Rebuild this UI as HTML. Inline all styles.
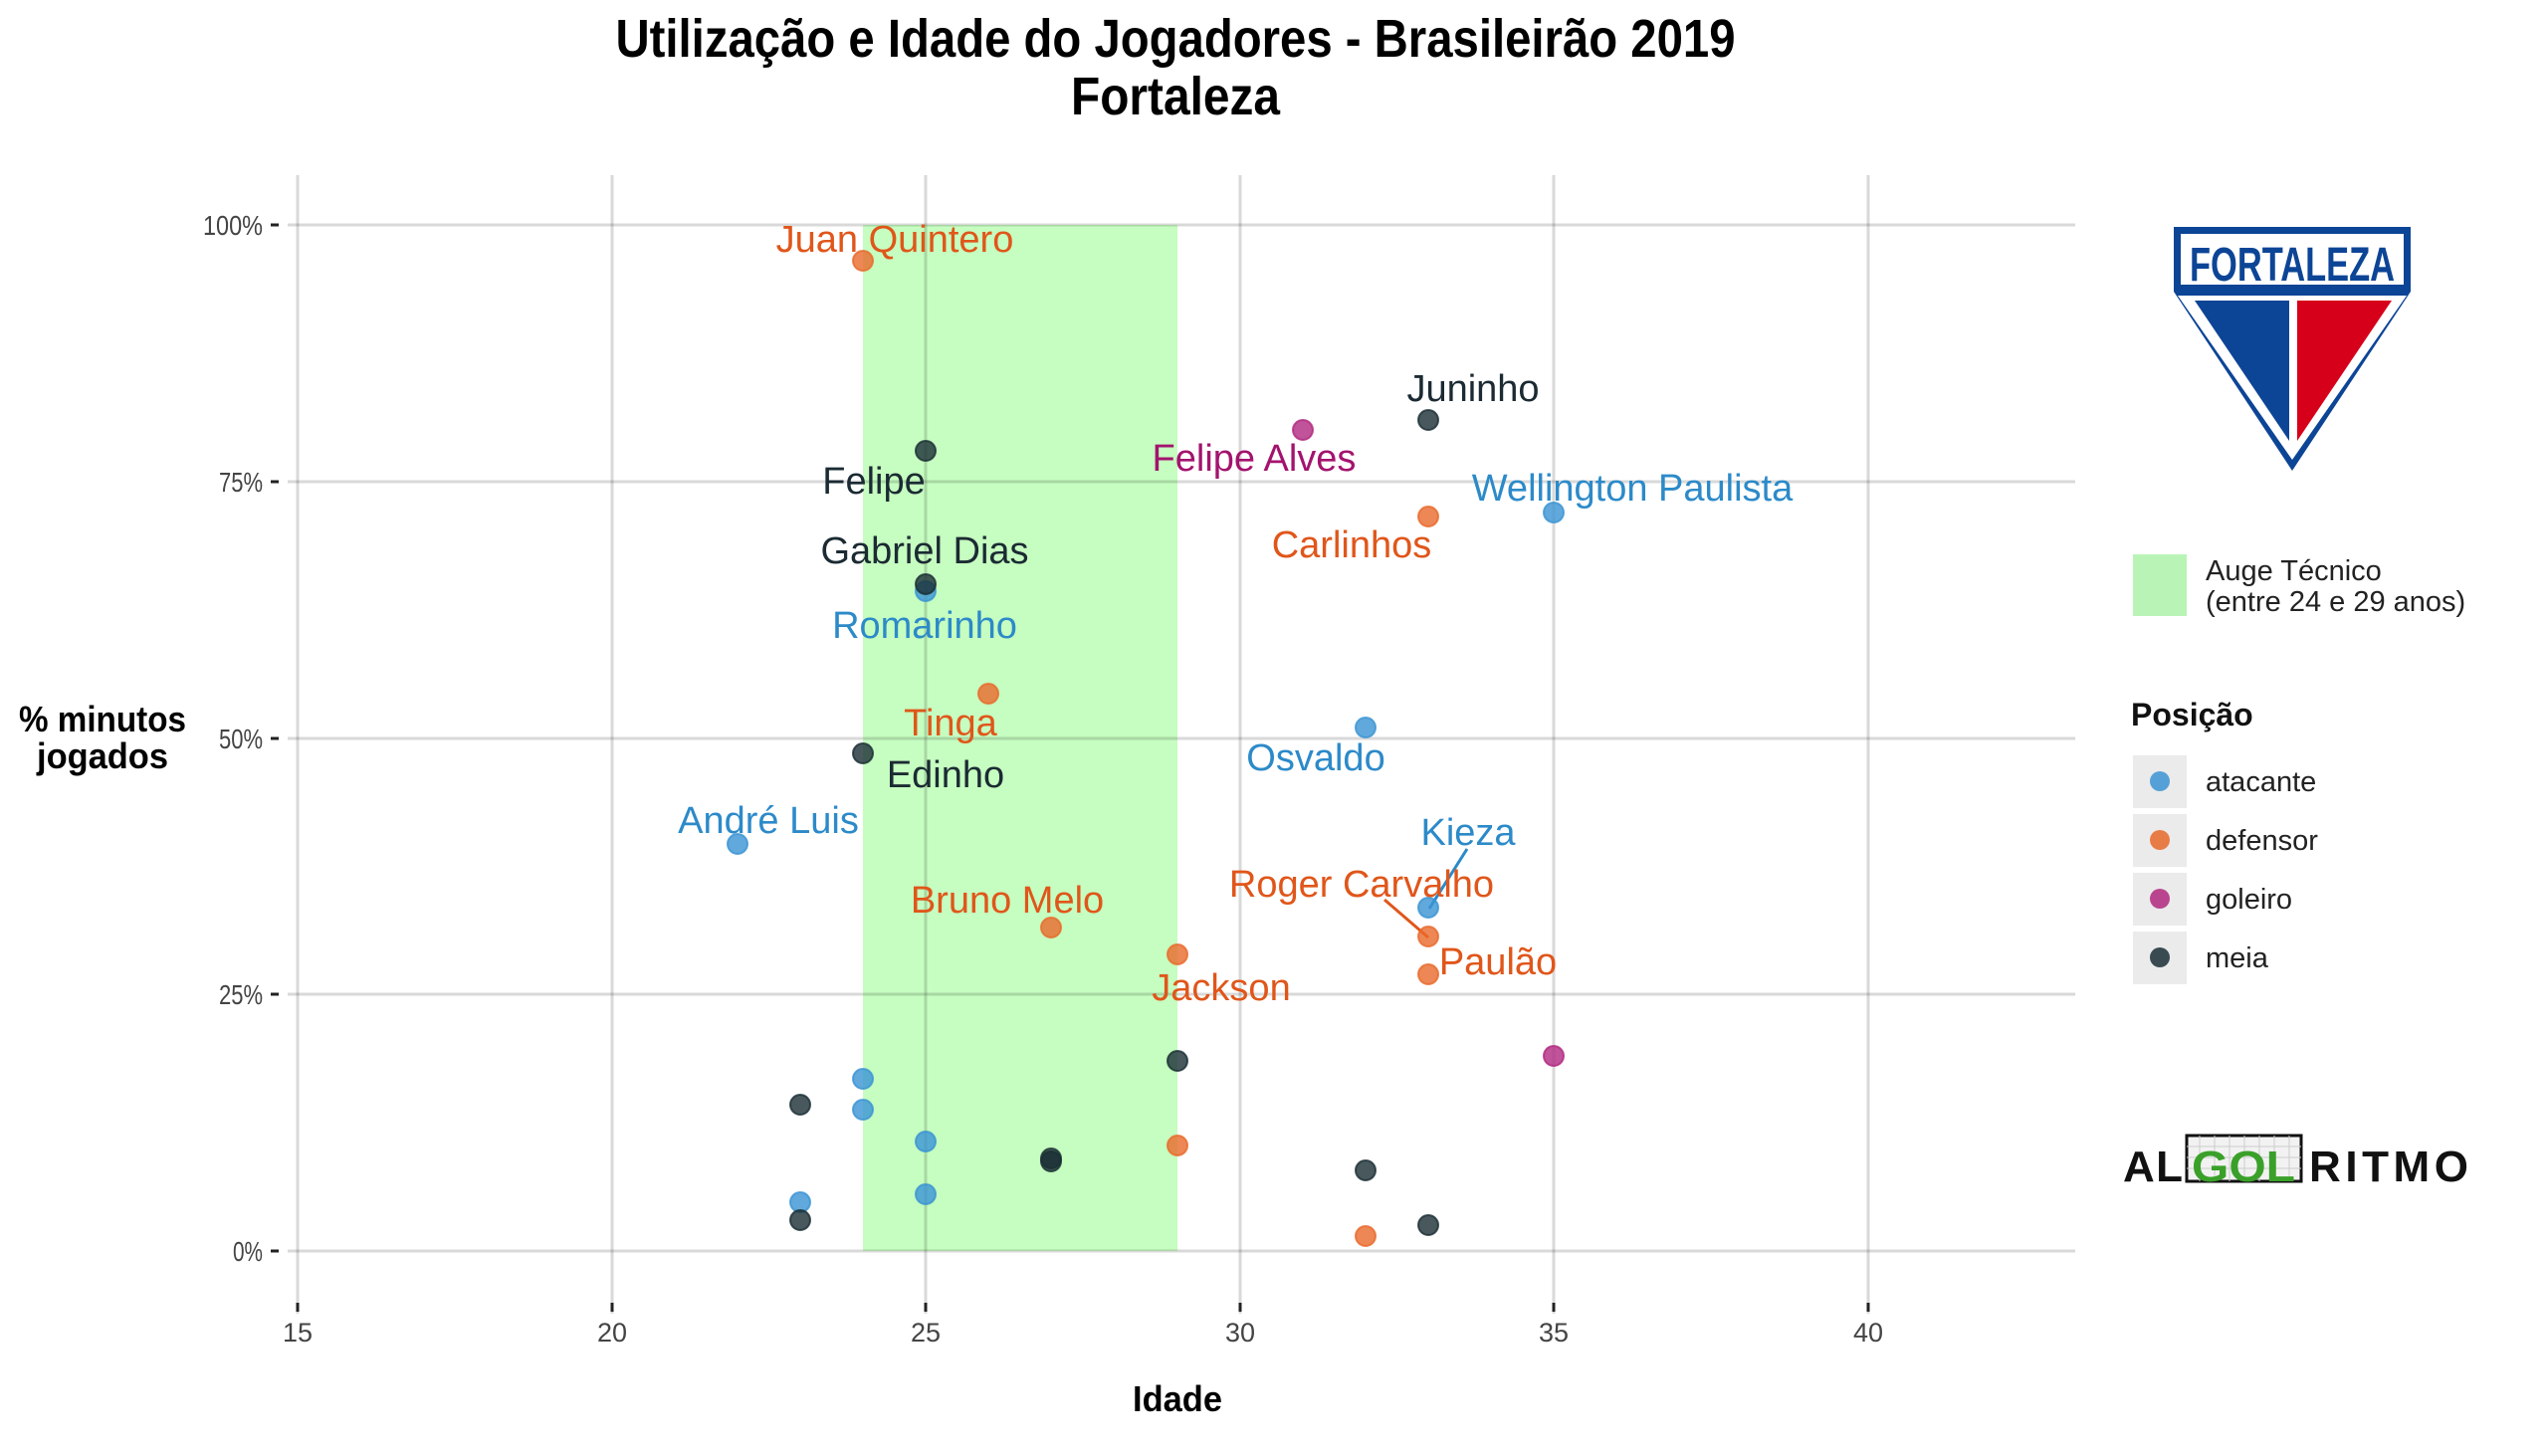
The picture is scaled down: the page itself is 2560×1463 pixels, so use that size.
<!DOCTYPE html>
<html><head><meta charset="utf-8"><style>
html,body{margin:0;padding:0;background:#fff}
svg{display:block}
text{font-family:"Liberation Sans",sans-serif}
</style></head><body>
<svg width="2560" height="1463" viewBox="0 0 2560 1463" xmlns="http://www.w3.org/2000/svg">
<rect width="2560" height="1463" fill="#fff"/>
<text x="1181" y="57" font-size="54" font-weight="bold" text-anchor="middle" textLength="1125" lengthAdjust="spacingAndGlyphs">Utilização e Idade do Jogadores - Brasileirão 2019</text>
<text x="1181" y="115" font-size="54" font-weight="bold" text-anchor="middle" textLength="210" lengthAdjust="spacingAndGlyphs">Fortaleza</text>
<rect x="867" y="226" width="316" height="1031" fill="#c6fdc0"/>
<g stroke="#000" stroke-opacity="0.15" stroke-width="3">
<line x1="299" y1="176" x2="299" y2="1320"/><line x1="615" y1="176" x2="615" y2="1320"/>
<line x1="930" y1="176" x2="930" y2="1320"/><line x1="1246" y1="176" x2="1246" y2="1320"/>
<line x1="1561" y1="176" x2="1561" y2="1320"/><line x1="1877" y1="176" x2="1877" y2="1320"/>
<line x1="289" y1="226" x2="2085" y2="226"/><line x1="289" y1="484" x2="2085" y2="484"/>
<line x1="289" y1="742" x2="2085" y2="742"/><line x1="289" y1="999" x2="2085" y2="999"/>
<line x1="289" y1="1257" x2="2085" y2="1257"/>
</g>
<g stroke="#222" stroke-width="3">
<line x1="272" y1="226" x2="280" y2="226"/><line x1="272" y1="484" x2="280" y2="484"/>
<line x1="272" y1="742" x2="280" y2="742"/><line x1="272" y1="999" x2="280" y2="999"/>
<line x1="272" y1="1257" x2="280" y2="1257"/>
<line x1="299" y1="1309" x2="299" y2="1318"/><line x1="615" y1="1309" x2="615" y2="1318"/>
<line x1="930" y1="1309" x2="930" y2="1318"/><line x1="1246" y1="1309" x2="1246" y2="1318"/>
<line x1="1561" y1="1309" x2="1561" y2="1318"/><line x1="1877" y1="1309" x2="1877" y2="1318"/>
</g>
<g font-size="28" fill="#444" text-anchor="end">
<text x="264" y="236" textLength="60" lengthAdjust="spacingAndGlyphs">100%</text>
<text x="264" y="494" textLength="44" lengthAdjust="spacingAndGlyphs">75%</text>
<text x="264" y="752" textLength="44" lengthAdjust="spacingAndGlyphs">50%</text>
<text x="264" y="1009" textLength="44" lengthAdjust="spacingAndGlyphs">25%</text>
<text x="264" y="1267" textLength="30" lengthAdjust="spacingAndGlyphs">0%</text>
</g>
<g font-size="27" fill="#444" text-anchor="middle">
<text x="299" y="1348">15</text><text x="615" y="1348">20</text><text x="930" y="1348">25</text>
<text x="1246" y="1348">30</text><text x="1561" y="1348">35</text><text x="1877" y="1348">40</text>
</g>
<text x="1183" y="1418" font-size="36" font-weight="bold" text-anchor="middle" textLength="90" lengthAdjust="spacingAndGlyphs">Idade</text>
<text x="103" y="735" font-size="36" font-weight="bold" text-anchor="middle" textLength="168" lengthAdjust="spacingAndGlyphs">% minutos</text>
<text x="103" y="772" font-size="36" font-weight="bold" text-anchor="middle" textLength="132" lengthAdjust="spacingAndGlyphs">jogados</text>
<line x1="1474" y1="853" x2="1436" y2="913" stroke="#2c8ac9" stroke-width="3"/>
<line x1="1391" y1="904" x2="1435" y2="942" stroke="#e0561a" stroke-width="3"/>
<g fill-opacity="0.8" stroke-opacity="0.8" stroke-width="2">
<g fill="#3a93d3" stroke="#3a93d3">
<circle cx="1561" cy="515" r="10"/><circle cx="930" cy="594" r="10"/><circle cx="1372" cy="731" r="10"/>
<circle cx="741" cy="848" r="10"/><circle cx="1435" cy="912" r="10"/><circle cx="867" cy="1084" r="10"/>
<circle cx="867" cy="1115" r="10"/><circle cx="930" cy="1147" r="10"/><circle cx="804" cy="1208" r="10"/>
<circle cx="930" cy="1200" r="10"/>
</g>
<g fill="#e8692a" stroke="#e8692a">
<circle cx="867" cy="262" r="10"/><circle cx="1435" cy="519" r="10"/><circle cx="993" cy="697" r="10"/>
<circle cx="1435" cy="941" r="10"/><circle cx="1056" cy="932" r="10"/><circle cx="1183" cy="959" r="10"/>
<circle cx="1435" cy="979" r="10"/><circle cx="1183" cy="1151" r="10"/><circle cx="1372" cy="1242" r="10"/>
</g>
<g fill="#b0287f" stroke="#b0287f">
<circle cx="1309" cy="432" r="10"/><circle cx="1561" cy="1061" r="10"/>
</g>
<g fill="#1a2e35" stroke="#1a2e35">
<circle cx="930" cy="453" r="10"/><circle cx="1435" cy="422" r="10"/><circle cx="930" cy="587" r="10"/>
<circle cx="867" cy="757" r="10"/><circle cx="1183" cy="1066" r="10"/><circle cx="804" cy="1110" r="10"/>
<circle cx="1056" cy="1164" r="10"/><circle cx="1056" cy="1167" r="10"/><circle cx="1372" cy="1176" r="10"/>
<circle cx="804" cy="1226" r="10"/><circle cx="1435" cy="1231" r="10"/>
</g>
</g>
<g font-size="38" text-anchor="middle">
<text x="899" y="253" fill="#e0561a">Juan Quintero</text>
<text x="1480" y="403" fill="#1b2a33">Juninho</text>
<text x="878" y="496" fill="#1b2a33">Felipe</text>
<text x="1260" y="473" fill="#a3136e">Felipe Alves</text>
<text x="1640" y="503" fill="#2c8ac9">Wellington Paulista</text>
<text x="1358" y="560" fill="#e0561a">Carlinhos</text>
<text x="929" y="566" fill="#1b2a33">Gabriel Dias</text>
<text x="929" y="641" fill="#2c8ac9">Romarinho</text>
<text x="955" y="739" fill="#e0561a">Tinga</text>
<text x="1322" y="774" fill="#2c8ac9">Osvaldo</text>
<text x="950" y="791" fill="#1b2a33">Edinho</text>
<text x="772" y="837" fill="#2c8ac9">André Luis</text>
<text x="1475" y="849" fill="#2c8ac9">Kieza</text>
<text x="1368" y="901" fill="#e0561a">Roger Carvalho</text>
<text x="1012" y="917" fill="#e0561a">Bruno Melo</text>
<text x="1505" y="979" fill="#e0561a">Paulão</text>
<text x="1227" y="1005" fill="#e0561a">Jackson</text>
</g>
<path d="M2184,228 H2422 V293 L2303,473 L2184,293 Z" fill="#0d4596"/>
<path d="M2191,235 H2415 V286 H2191 Z" fill="#fff"/>
<path d="M2188,297 L2418,297 L2303,462 Z" fill="#fff"/>
<path d="M2205,302 L2300,302 L2300,443 Z" fill="#0d4596"/>
<path d="M2308,302 L2403,302 L2308,443 Z" fill="#d7001a"/>
<text x="2303" y="282" font-size="48" font-weight="bold" fill="#0d4596" text-anchor="middle" textLength="206" lengthAdjust="spacingAndGlyphs">FORTALEZA</text>
<rect x="2143" y="557" width="54" height="62" fill="#b9f4b6"/>
<text x="2216" y="583" font-size="29" fill="#222">Auge Técnico</text>
<text x="2216" y="614" font-size="29" fill="#222">(entre 24 e 29 anos)</text>
<text x="2141" y="729" font-size="32" font-weight="bold" fill="#111">Posição</text>
<g fill="#ebebeb">
<rect x="2143" y="759" width="54" height="53"/><rect x="2143" y="818" width="54" height="53"/>
<rect x="2143" y="877" width="54" height="53"/><rect x="2143" y="936" width="54" height="53"/>
</g>
<circle cx="2170" cy="785" r="10" fill="#3a93d3" fill-opacity="0.85"/>
<circle cx="2170" cy="844" r="10" fill="#e8692a" fill-opacity="0.85"/>
<circle cx="2170" cy="903" r="10" fill="#b0287f" fill-opacity="0.85"/>
<circle cx="2170" cy="962" r="10" fill="#1a2e35" fill-opacity="0.85"/>
<g font-size="29" fill="#222">
<text x="2216" y="795">atacante</text><text x="2216" y="854">defensor</text>
<text x="2216" y="913">goleiro</text><text x="2216" y="972">meia</text>
</g>
<rect x="2197" y="1141" width="115" height="46" fill="#f2f2f2" stroke="#111" stroke-width="3"/>
<g stroke="#ccc" stroke-width="1">
<line x1="2210" y1="1141" x2="2210" y2="1187"/><line x1="2225" y1="1141" x2="2225" y2="1187"/><line x1="2240" y1="1141" x2="2240" y2="1187"/>
<line x1="2255" y1="1141" x2="2255" y2="1187"/><line x1="2270" y1="1141" x2="2270" y2="1187"/><line x1="2285" y1="1141" x2="2285" y2="1187"/><line x1="2300" y1="1141" x2="2300" y2="1187"/>
<line x1="2197" y1="1152" x2="2312" y2="1152"/><line x1="2197" y1="1163" x2="2312" y2="1163"/><line x1="2197" y1="1174" x2="2312" y2="1174"/>
</g>
<text x="2133" y="1187" font-size="44" font-weight="bold" fill="#111" textLength="60" lengthAdjust="spacing">AL</text>
<text x="2202" y="1187" font-size="44" font-weight="bold" fill="#3aa02a" textLength="104" lengthAdjust="spacingAndGlyphs">GOL</text>
<text x="2320" y="1187" font-size="44" font-weight="bold" fill="#111" textLength="160" lengthAdjust="spacing">RITMO</text>
</svg>
</body></html>
